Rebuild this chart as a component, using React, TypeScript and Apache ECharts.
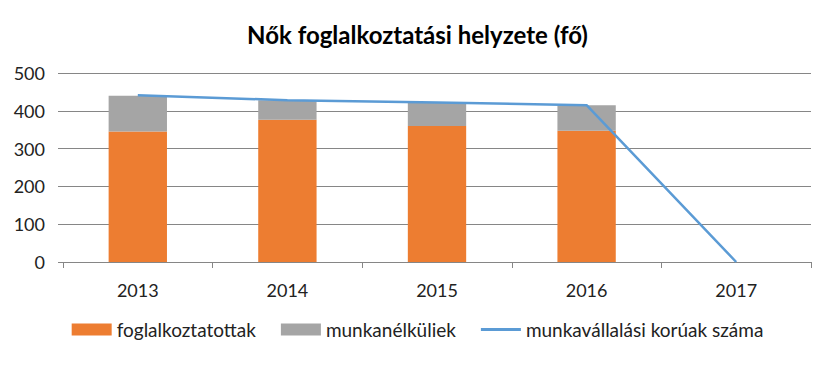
import React, { useEffect, useRef } from "react";
import * as echarts from "echarts";

const years = ["2013", "2014", "2015", "2016", "2017"];
const employed = [345, 376, 360, 347, null];
const unemployed = [95, 52, 61, 68, null];
const workingAge = [441, 428, 422, 415, 0];
const yTicks = { min: 0, max: 500, interval: 100 };

const FONT = "Lato, 'Open Sans', sans-serif";

export default function App() {
  const ref = useRef<HTMLDivElement>(null);
  useEffect(() => {
    if (!ref.current) return;
    const chart = echarts.init(ref.current, undefined, { renderer: "svg" });
    chart.setOption({
      animation: false,
      backgroundColor: "#fff",
      title: {
        text: "Nők foglalkoztatási helyzete (fő)",
        left: "center",
        top: 17,
        textStyle: { fontFamily: FONT, fontSize: 24, fontWeight: "bold", color: "#000" },
      },
      legend: {
        bottom: 21,
        left: "center",
        itemWidth: 40,
        itemHeight: 12,
        itemGap: 25,
        textStyle: { fontFamily: FONT, fontSize: 19, color: "#222" },
        data: [
          { name: "foglalkoztatottak", icon: "rect" },
          { name: "munkanélküliek", icon: "rect" },
          { name: "munkavállalási korúak száma", icon: "path://M0,4.5L40,4.5L40,7.5L0,7.5Z" },
        ],
      },
      grid: { left: 63, right: 24, top: 73, bottom: 103 },
      xAxis: {
        type: "category",
        data: years,
        axisLine: { lineStyle: { color: "#868686", width: 1 } },
        axisTick: { show: true, length: 6, lineStyle: { color: "#868686" } },
        axisLabel: { fontFamily: FONT, fontSize: 18, color: "#222", margin: 19 },
      },
      yAxis: {
        type: "value",
        min: yTicks.min,
        max: yTicks.max,
        interval: yTicks.interval,
        axisLine: { show: false },
        axisTick: { show: true, length: 5, lineStyle: { color: "#868686" } },
        splitLine: { lineStyle: { color: "#868686", width: 1 } },
        axisLabel: { fontFamily: FONT, fontSize: 18, color: "#222", margin: 18 },
      },
      series: [
        {
          name: "foglalkoztatottak",
          type: "bar",
          stack: "a",
          data: employed,
          barWidth: "39%",
          itemStyle: { color: "#ED7D31" },
        },
        {
          name: "munkanélküliek",
          type: "bar",
          stack: "a",
          data: unemployed,
          barWidth: "39%",
          itemStyle: { color: "#A5A5A5" },
        },
        {
          name: "munkavállalási korúak száma",
          type: "line",
          data: workingAge,
          showSymbol: false,
          symbol: "none",
          z: 5,
          lineStyle: { color: "#5B9BD5", width: 2.5 },
          itemStyle: { color: "#5B9BD5" },
        },
      ],
    });
    return () => chart.dispose();
  }, []);
  return (
    <div
      style={{
        position: "fixed",
        left: 0,
        top: 0,
        width: 835,
        height: 365,
        boxSizing: "border-box",
        border: "1px solid #8a8a8a",
        background: "#fff",
      }}
    >
      <div ref={ref} style={{ position: "absolute", left: -1, top: -1, width: 835, height: 365 }} />
    </div>
  );
}
